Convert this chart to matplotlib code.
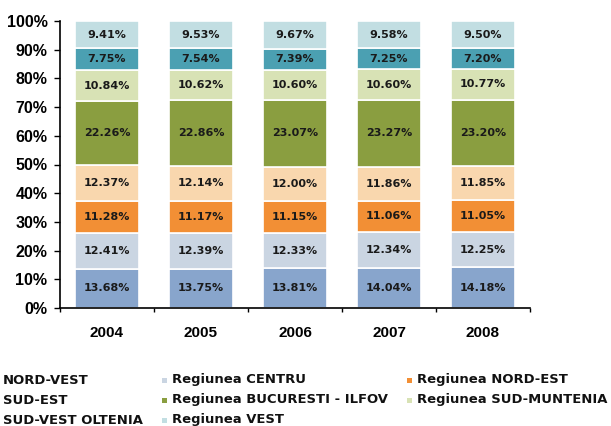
import matplotlib
matplotlib.use('Agg')
import matplotlib.pyplot as plt
from matplotlib.patches import Rectangle

years = ['2004', '2005', '2006', '2007', '2008']
regions = ['Regiunea NORD-VEST', 'Regiunea CENTRU', 'Regiunea NORD-EST',
           'Regiunea SUD-EST', 'Regiunea BUCURESTI - ILFOV',
           'Regiunea SUD-MUNTENIA', 'Regiunea SUD-VEST OLTENIA',
           'Regiunea VEST']
nord_vest = [13.68, 13.75, 13.81, 14.04, 14.18]
centru = [12.41, 12.39, 12.33, 12.34, 12.25]
nord_est = [11.28, 11.17, 11.15, 11.06, 11.05]
sud_est = [12.37, 12.14, 12.00, 11.86, 11.85]
bucuresti = [22.26, 22.86, 23.07, 23.27, 23.20]
sud_muntenia = [10.84, 10.62, 10.60, 10.60, 10.77]
sud_vest = [7.75, 7.54, 7.39, 7.25, 7.20]
vest = [9.41, 9.53, 9.67, 9.58, 9.50]
series = [nord_vest, centru, nord_est, sud_est, bucuresti,
          sud_muntenia, sud_vest, vest]
colors = ['#88a5cc', '#cad5e2', '#f28f35', '#f9d7ae', '#8a9e40',
          '#d8e2b5', '#4ba0b2', '#c2dee2']

W, H = 611, 426
fig = plt.figure(figsize=(W / 100, H / 100), dpi=100)
ax = fig.add_axes([60 / W, 1 - 308 / H, 470 / W, 287 / H])

x = list(range(len(years)))
bottom = [0.0] * len(years)
for name, vals, col in zip(regions, series, colors):
    ax.bar(x, vals, width=0.69, bottom=bottom, color=col,
           edgecolor='white', linewidth=1.2)
    for i, v in enumerate(vals):
        ax.text(x[i], bottom[i] + v / 2, '%.2f%%' % v, ha='center',
                va='center', fontsize=8, fontweight='bold', color='#1a1a1a')
    bottom = [b + v for b, v in zip(bottom, vals)]

ax.set_xlim(-0.5, len(years) - 0.5)
ax.set_ylim(0, 100)
ax.set_yticks(range(0, 101, 10))
ax.set_yticklabels(['%d%%' % t for t in range(0, 101, 10)],
                   fontsize=11.5, fontweight='bold', family='Liberation Sans')
ax.set_xticks(x)
ax.set_xticklabels(years, fontsize=11, fontweight='bold',
                   family='Liberation Sans')
ax.set_xticks([i + 0.5 for i in range(-1, len(years))], minor=True)
ax.tick_params(axis='x', which='major', length=0, pad=13)
ax.tick_params(axis='x', which='minor', length=3, width=1)
ax.tick_params(axis='y', length=4, width=1, pad=5)
for s in ['top', 'right']:
    ax.spines[s].set_visible(False)
for s in ['left', 'bottom']:
    ax.spines[s].set_linewidth(1.2)

# legend: 3 columns row-wise, first column shows only the region names
# (the original is cropped on the left)
col_x = [3, 172, 417]
row_y = [380, 400, 420]
for k, (name, col) in enumerate(zip(regions, colors)):
    r, c = divmod(k, 3)
    tx, ty = col_x[c], row_y[r]
    label = name
    if c == 0:
        label = name.replace('Regiunea ', '')
    else:
        fig.add_artist(Rectangle(((tx - 10) / W, 1 - (ty + 3) / H),
                                 5 / W, 5 / H, transform=fig.transFigure,
                                 facecolor=col, edgecolor='none'))
    fig.text(tx / W, 1 - ty / H, label, ha='left', va='center',
             fontsize=9.45, fontweight='bold', color='#111111')

fig.savefig('out.png', dpi=100)
